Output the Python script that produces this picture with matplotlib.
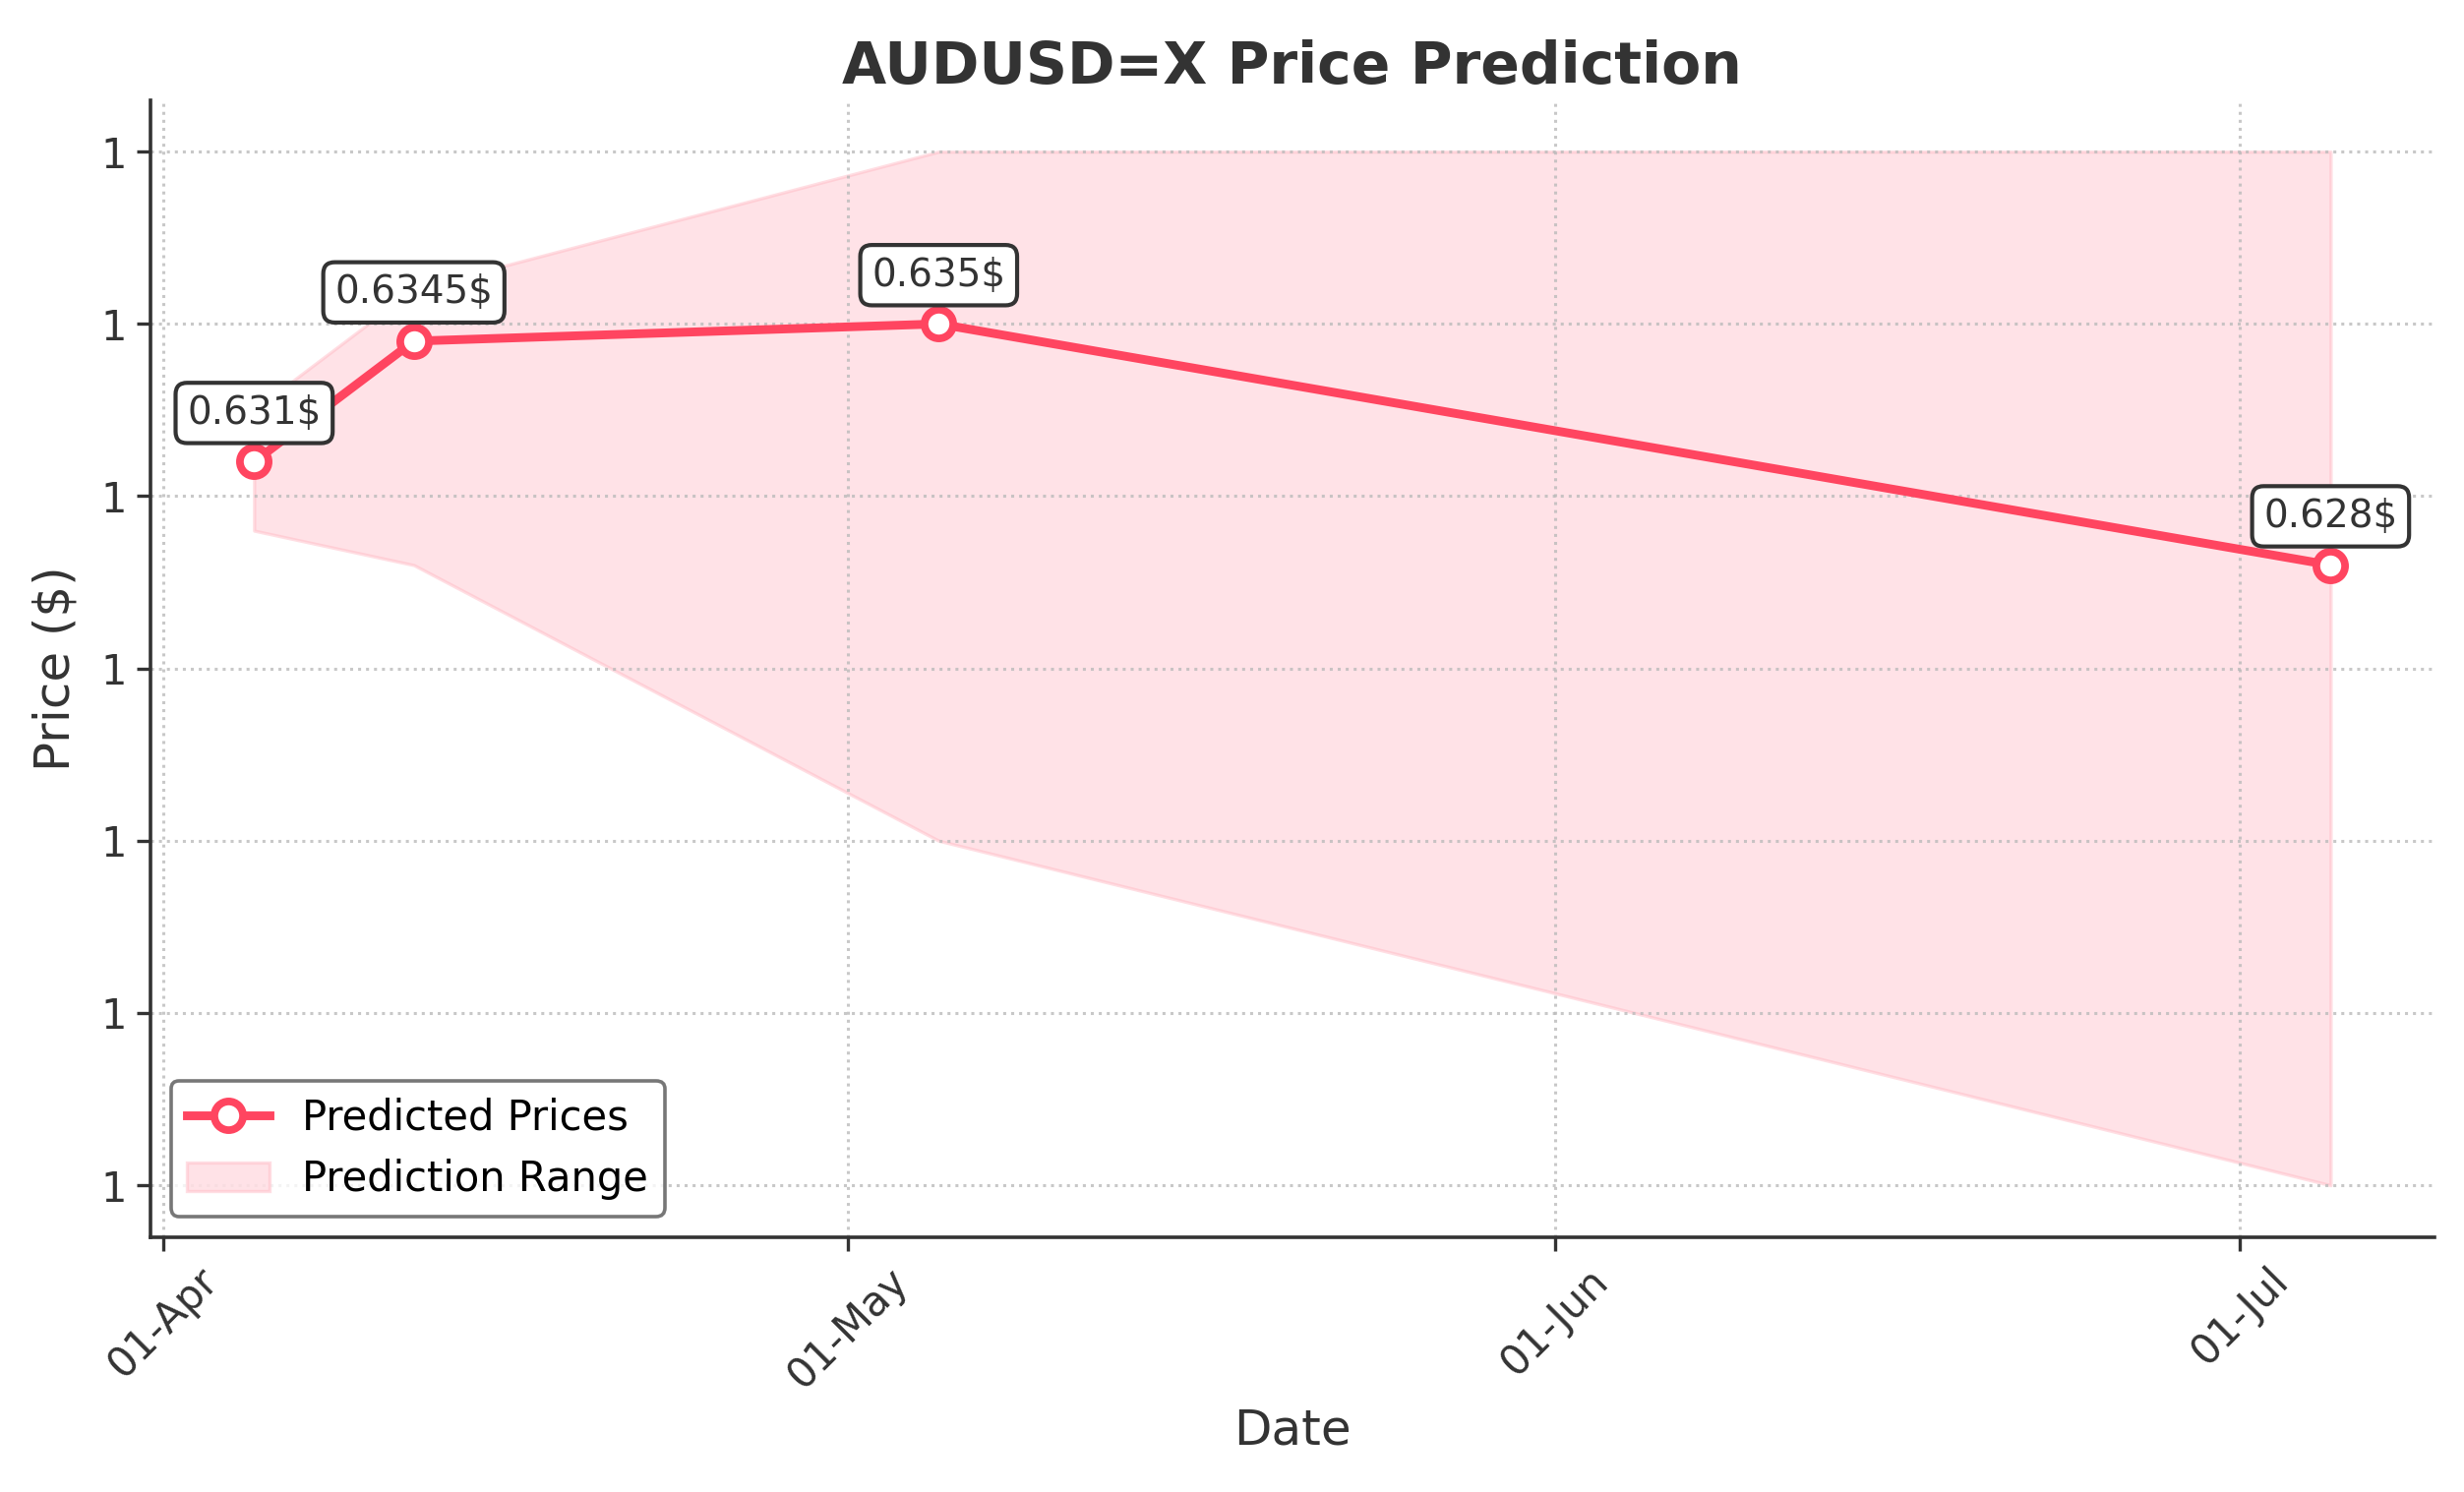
import matplotlib
matplotlib.use("Agg")
import matplotlib.dates as mdates
import matplotlib.pyplot as plt
import matplotlib.ticker as mticker
import pandas as pd

dates = pd.to_datetime(["2025-04-05", "2025-04-12", "2025-05-05", "2025-07-05"])
predicted = [0.631, 0.6345, 0.635, 0.628]
upper = [0.6325, 0.636, 0.640, 0.640]
lower = [0.629, 0.628, 0.620, 0.610]
labels = ["0.631$", "0.6345$", "0.635$", "0.628$"]

line_color = "#ff4560"
text_color = "#333333"

fig, ax = plt.subplots(figsize=(12.525, 7.585), dpi=200)
fig.subplots_adjust(left=0.061, right=0.988, top=0.933, bottom=0.171)

ax.plot(dates, predicted, color=line_color, linewidth=3.2, marker="o",
        markersize=10.5, markerfacecolor="white", markeredgecolor=line_color,
        markeredgewidth=2.8, label="Predicted Prices", zorder=3)
ax.fill_between(dates, lower, upper, color="pink", alpha=0.45,
                edgecolor="#ffb6c1", linewidth=1.2, label="Prediction Range")

for d, v, lab in zip(dates, predicted, labels):
    ax.annotate(lab, (d, v), xytext=(0, 11), textcoords="offset points",
                ha="center", va="bottom", fontsize=14, color=text_color,
                bbox=dict(boxstyle="round,pad=0.3", facecolor="white",
                          edgecolor=text_color, linewidth=1.5))

ax.set_title("AUDUSD=X Price Prediction", fontsize=21, fontweight="bold",
             color=text_color)
ax.set_xlabel("Date", fontsize=18, color=text_color)
ax.set_ylabel("Price ($)", fontsize=18, color=text_color, labelpad=8)

ax.xaxis.set_major_locator(mdates.MonthLocator())
ax.xaxis.set_major_formatter(mdates.DateFormatter("%d-%b"))
ax.yaxis.set_major_formatter(mticker.FormatStrFormatter("%.0f"))
plt.setp(ax.get_xticklabels(), rotation=45)
ax.tick_params(axis="both", labelsize=15, colors=text_color, length=5,
               width=1.2)

ax.grid(True, linestyle=":", color="#bbbbbb", alpha=0.8, linewidth=1.1)
ax.spines["top"].set_visible(False)
ax.spines["right"].set_visible(False)
for s in ("left", "bottom"):
    ax.spines[s].set_color(text_color)
    ax.spines[s].set_linewidth(1.3)

leg = ax.legend(loc="lower left", fontsize=15, frameon=True, fancybox=True)
leg.get_frame().set_edgecolor("#555555")
leg.get_frame().set_linewidth(1.3)

fig.savefig("out.png", dpi=200)
